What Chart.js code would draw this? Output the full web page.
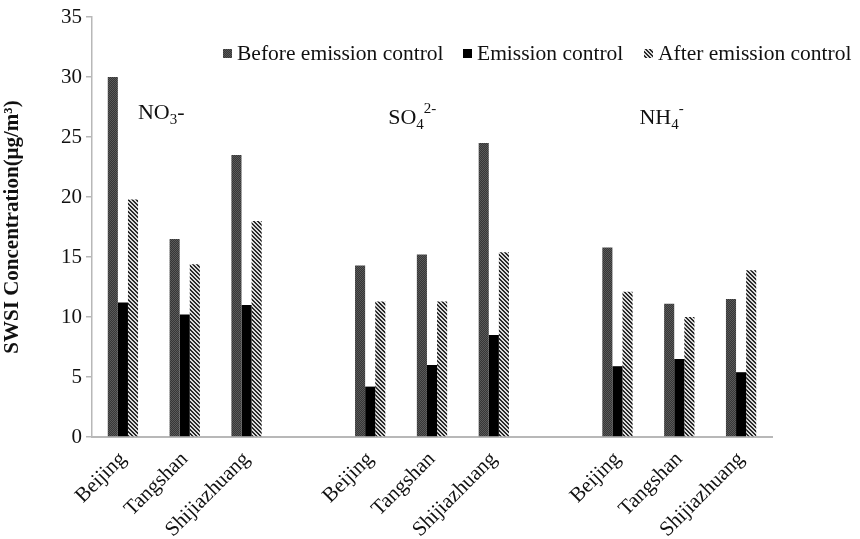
<!DOCTYPE html>
<html>
<head>
<meta charset="utf-8">
<script src="https://cdn.jsdelivr.net/npm/chart.js@4/dist/chart.umd.min.js"></script>
<style>
  body { margin: 0; background: #fff; }
  #wrap { width: 860px; height: 539px; }
</style>
</head>
<body>
<div id="wrap"><canvas id="swsiChart" width="860" height="539"></canvas></div>
<script>
// City labels, with blank slots separating the three ion groups
const cities = ["Beijing", "Tangshan", "Shijiazhuang", "",
                "Beijing", "Tangshan", "Shijiazhuang", "",
                "Beijing", "Tangshan", "Shijiazhuang"];

// NO3-, SO4 2-, NH4- concentrations (μg/m3)
const beforeControl = [30.0, 16.5, 23.5, null, 14.3, 15.2, 24.5, null, 15.8, 11.1, 11.5];
const duringControl = [11.2, 10.2, 11.0, null, 4.2, 6.0, 8.5, null, 5.9, 6.5, 5.4];
const afterControl  = [19.8, 14.4, 18.0, null, 11.3, 11.3, 15.4, null, 12.1, 10.0, 13.9];

const seriesNames = ["Before emission control", "Emission control", "After emission control"];
const yTicks = [0, 5, 10, 15, 20, 25, 30, 35];

const serif = "'Liberation Serif', 'DejaVu Serif', serif";

// Small canvas tiles used as bar fills
function makePattern(size, paint) {
    const c = document.createElement("canvas");
    c.width = size; c.height = size;
    const g = c.getContext("2d");
    paint(g);
    return g.createPattern(c, "repeat");
}

const darkTexture = makePattern(2, g => {
    g.fillStyle = "#363636"; g.fillRect(0, 0, 2, 2);
    g.fillStyle = "#5a5a5a"; g.fillRect(0, 0, 1, 1); g.fillRect(1, 1, 1, 1);
});

const hatch = makePattern(4, g => {
    g.fillStyle = "#dcdcdc"; g.fillRect(0, 0, 4, 4);
    g.fillStyle = "#2a2a2a";
    for (let y = 0; y < 4; y++) {
        g.fillRect(y % 4, y, 1, 1);
        g.fillRect((y + 1) % 4, y, 1, 1);
    }
});

const fills = [darkTexture, "#000000", hatch];

// Legend drawn inside the plot, plus the ion labels above each group
const extras = {
    id: "extras",
    afterDraw(chart) {
        const ctx = chart.ctx;
        const x = chart.scales.x, y = chart.scales.y;
        ctx.save();
        ctx.fillStyle = "#111";
        ctx.textBaseline = "middle";

        // legend
        ctx.font = "21.5px " + serif;
        const legendX = [223, 463, 644];
        seriesNames.forEach((name, i) => {
            ctx.fillStyle = fills[i];
            ctx.fillRect(legendX[i], 49, 9, 9);
            ctx.fillStyle = "#111";
            ctx.fillText(name, legendX[i] + 14, 54);
        });

        // ion labels: [category index, x offset, y value, base, sub, sup, sup raised]
        const ions = [
            [0, 15, 27.0, "NO", "3", "-", false],
            [4, 18, 26.6, "SO", "4", "2-", true],
            [8, 22, 26.6, "NH", "4", "-", true]
        ];
        ions.forEach(([idx, dx, v, base, sub, sup, raised]) => {
            let px = x.getPixelForValue(idx) + dx;
            const py = y.getPixelForValue(v);
            ctx.font = "22px " + serif;
            ctx.fillText(base, px, py);
            px += ctx.measureText(base).width;
            ctx.font = "15px " + serif;
            ctx.fillText(sub, px, py + 7);
            px += ctx.measureText(sub).width;
            if (raised) {
                ctx.fillText(sup, px, py - 9);
            } else {
                ctx.font = "22px " + serif;
                ctx.fillText(sup, px, py);
            }
        });
        ctx.restore();
    }
};

const ctx = document.getElementById("swsiChart").getContext("2d");

new Chart(ctx, {
    type: "bar",
    data: {
        labels: cities,
        datasets: [beforeControl, duringControl, afterControl].map((d, i) => ({
            label: seriesNames[i],
            data: d,
            backgroundColor: fills[i],
            borderWidth: 0,
            categoryPercentage: 0.49,
            barPercentage: 1.0
        }))
    },
    options: {
        responsive: false,
        animation: false,
        layout: { padding: { left: 0, right: 88, top: 17, bottom: 0 } },
        plugins: {
            legend: { display: false },
            tooltip: { enabled: false }
        },
        scales: {
            x: {
                grid: { display: false },
                border: { display: true, color: "#b8b8b8", width: 2 },
                ticks: {
                    color: "#111",
                    font: { family: serif, size: 21 },
                    minRotation: 45,
                    maxRotation: 45,
                    autoSkip: false,
                    padding: 2
                },
                afterFit(scale) { scale.height = 102; }
            },
            y: {
                min: 0,
                max: 35,
                afterBuildTicks(scale) { scale.ticks = yTicks.map(v => ({ value: v })); },
                grid: {
                    drawOnChartArea: false,
                    drawTicks: true,
                    tickLength: 6,
                    color: "#b8b8b8",
                    lineWidth: 1.5
                },
                border: { display: true, color: "#b8b8b8", width: 1.5 },
                ticks: {
                    color: "#111",
                    font: { family: serif, size: 21 },
                    padding: 4
                },
                title: {
                    display: true,
                    text: "SWSI Concentration(μg/m³)",
                    color: "#111",
                    font: { family: serif, size: 21, weight: "bold" },
                    padding: { top: 0, bottom: 10 }
                },
                afterFit(scale) { scale.width = 92; }
            }
        }
    },
    plugins: [extras]
});
</script>
</body>
</html>
